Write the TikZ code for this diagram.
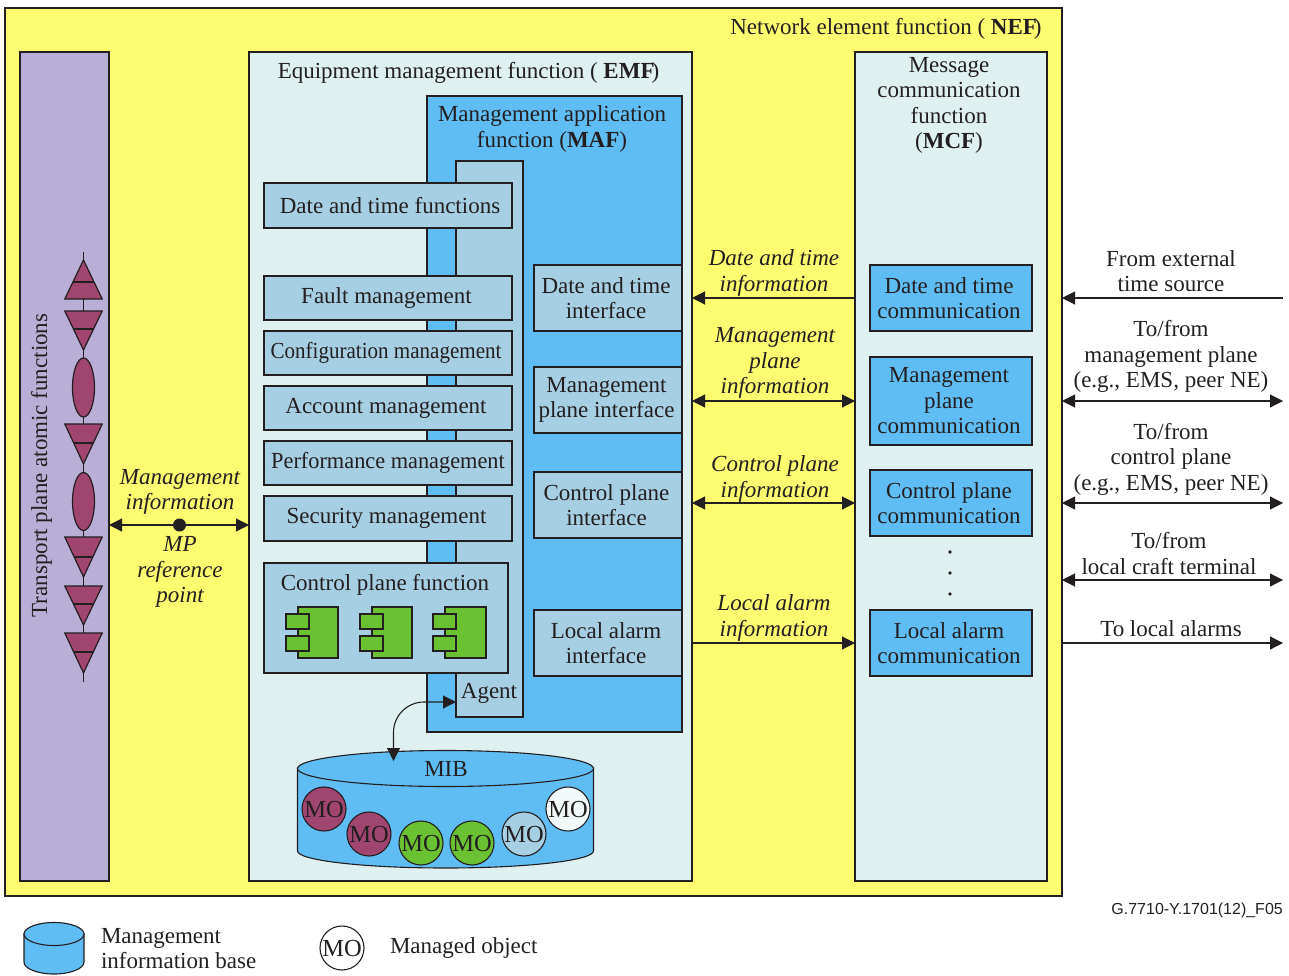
\documentclass[tikz,border=0pt]{standalone}
\usepackage{fontspec}
\setmainfont{Liberation Serif}
\newfontfamily\labelsans{Liberation Sans}
\usetikzlibrary{arrows.meta,calc}
\definecolor{nefyellow}{HTML}{FDFB70}
\definecolor{tppurple}{HTML}{B9AED5}
\definecolor{emflight}{HTML}{DFF0F1}
\definecolor{mafblue}{HTML}{5FBDF3}
\definecolor{midblue}{HTML}{A7CFE3}
\definecolor{magentaf}{HTML}{A04570}
\definecolor{greenf}{HTML}{6AC232}
\definecolor{inkc}{HTML}{231F20}
\tikzset{
  base/.style={draw=inkc,line width=1.1pt,inner sep=0pt,outer sep=0pt},
  nef/.style={base,fill=nefyellow},
  tp/.style={base,fill=tppurple},
  lightbox/.style={base,fill=emflight},
  bluebox/.style={base,fill=mafblue},
  midbox/.style={base,fill=midblue},
  txtb/.style={inner sep=0pt,outer sep=0pt,align=center,text=inkc,font=\fontsize{23}{25.5}\selectfont},
  txt/.style={txtb,yshift=-1pt},
  itxt/.style={txt,font=\fontsize{23}{25.5}\selectfont\itshape},
  conn/.style={draw=inkc,line width=1.1pt},
  biarrow/.style={conn,{Triangle[length=13pt,width=13pt]}-{Triangle[length=13pt,width=13pt]}},
  toarrow/.style={conn,-{Triangle[length=13pt,width=13pt]}},
  sym/.style={draw=inkc,line width=1.2pt,fill=magentaf},
  comp/.style={draw=inkc,line width=1.3pt,fill=greenf},
  mo/.style={draw=inkc,line width=1.1pt,circle,minimum size=44pt,inner sep=0pt,outer sep=0pt,text=inkc,
     font=\fontsize{24.5}{25}\selectfont},
}
% style, name, x1, y1, x2, y2
\newcommand{\rbox}[6]{%
  \node[#1,minimum width={(#5-#3)*1pt},minimum height={(#6-#4)*1pt}] (#2) at ({(#3+#5)/2},{(#4+#6)/2}) {};}
% text-bearing box: horizontal text offset, style, name, x1, y1, x2, y2, text
\newcommand{\tbox}[8]{%
  \rbox{#2}{#3}{#4}{#5}{#6}{#7}
  \node[txtb] (#3-t) at ($(#3.center)+(#1,0)$) {#8};}
\newcommand{\tri}[3]{%
  \draw[sym] (64.8,#1) -- (102.2,#1) -- (83.5,#2) -- cycle;
  \pgfmathsetmacro{\hw}{18.7*(#2-#3)/(#2-#1)}
  \draw[conn] ({83.5-\hw},#3) -- ({83.5+\hw},#3);}
\newcommand{\compo}[2]{%
  \draw[comp] (#1,607) rectangle ({#1+#2},658);
  \draw[comp] ({#1-12},614) rectangle ({#1+11},629);
  \draw[comp] ({#1-12},636) rectangle ({#1+11},651);}
\begin{document}
\begin{tikzpicture}[x=1pt,y=-1pt]
\useasboundingbox (0,0) rectangle (1289,976);
% outer
\rbox{nef}{nefb}{5}{8}{1062}{896}
\node[txt] (neft) at (886,28) {Network element function ( \textbf{NEF\kern-3pt})};
% purple column
\rbox{tp}{tpb}{20}{52}{109}{881}
\node[txtb,rotate=90] (tpt) at (41.5,465.5) {Transport plane atomic functions};
\draw[conn] (83.5,252) -- (83.5,682);
\tri{299}{260}{282}
\tri{311}{350}{329}
\draw[sym] (83.5,387.5) ellipse [x radius=11,y radius=29.5];
\tri{424}{464}{443}
\draw[sym] (83.5,501.5) ellipse [x radius=11,y radius=29];
\tri{537}{577}{557}
\tri{586}{625}{604}
\tri{633}{673}{652}
% EMF
\rbox{lightbox}{emf}{249}{52}{692}{881}
\node[txt] (emft) at (468.5,72) {Equipment management function ( \textbf{EMF\kern-3pt})};
\rbox{bluebox}{maf}{427}{96}{682}{732}
\node[txt] (maft) at (552,128) {Management application\\function (\textbf{MAF})};
\rbox{midbox}{agentb}{456}{161}{523}{717}
\node[txt] (agentt) at (489,692.5) {Agent};
\tbox{2}{midbox}{fdate}{264}{183}{512}{228}{Date and time functions}
\tbox{-1.5}{midbox}{ffault}{264}{276}{512}{320}{Fault management}
\tbox{-2}{midbox}{fconf}{264}{331}{512}{375}{\scalebox{0.915}[1]{Configuration management}}
\tbox{-2}{midbox}{facc}{264}{386}{512}{430}{Account management}
\tbox{0}{midbox}{fperf}{264}{441}{512}{485}{\scalebox{0.97}[1]{Performance management}}
\tbox{-1.5}{midbox}{fsec}{264}{496}{512}{541}{Security management}
\rbox{midbox}{fcp}{264}{563}{508}{673}
\node[txt] (fcpt) at (385,584) {Control plane function};
\compo{298}{40}
\compo{372}{40}
\compo{445}{41}
\tbox{-2}{midbox}{idate}{534}{265}{682}{331}{Date and time\\interface}
\tbox{-1.5}{midbox}{imgmt}{534}{367}{682}{433}{Management\\plane interface}
\tbox{-1.5}{midbox}{icp}{534}{472}{682}{538}{Control plane\\interface}
\tbox{-2}{midbox}{ila}{534}{610}{682}{676}{Local alarm\\interface}
% MIB
\draw[conn,fill=mafblue] (297.5,768) -- (297.5,851) arc [start angle=180,end angle=0,x radius=148,y radius=17] -- (593.5,768) -- cycle;
\draw[conn,fill=mafblue] (445.5,768.5) ellipse [x radius=148,y radius=18];
\node[txt] (mib) at (446,768) {MIB};
\coordinate (mibarrow) at (393.5,761);
\node[mo,fill=magentaf] (mo1) at (324,809) {MO};
\node[mo,fill=magentaf] (mo2) at (369,834) {MO};
\node[mo,fill=greenf] (mo3) at (421,843) {MO};
\node[mo,fill=greenf] (mo4) at (472,843) {MO};
\node[mo,fill=midblue] (mo5) at (524,834) {MO};
\node[mo,fill=emflight!40!white] (mo6) at (568,809) {MO};
\draw[biarrow] (agentb.west |- 0,702) -- (424,702) arc [start angle=-90,end angle=-180,radius=30.5] -- (mibarrow);
% MCF
\rbox{lightbox}{mcf}{855}{52}{1047}{881}
\node[txt] (mcft) at (949,104.5) {Message\\communication\\function\\(\textbf{MCF})};
\tbox{-2}{bluebox}{mdate}{870}{265}{1032}{331}{Date and time\\communication}
\tbox{-2}{bluebox}{mmgmt}{870}{357}{1032}{445}{Management\\plane\\communication}
\tbox{-2}{bluebox}{mcp}{870}{470}{1032}{536}{Control plane\\communication}
\tbox{-2}{bluebox}{mla}{870}{610}{1032}{676}{Local alarm\\communication}
\fill[inkc] (950,552) circle (1.8) (950,573) circle (1.8) (950,594) circle (1.8);
% left connector
\coordinate (mpl) at (0,525);
\draw[biarrow] (tpb.east |- mpl) -- (emf.west |- mpl);
\node[circle,fill=inkc,minimum size=13pt,inner sep=0pt] (mpdot) at (179.5,525) {};
\node[itxt] (mgi) at (180,491) {Management\\information};
\node[itxt] (mpr) at (180,571) {MP\\reference\\point};
% centre connectors
\draw[toarrow] (mcf.west |- mdate) -- (emf.east |- mdate);
\draw[biarrow] (emf.east |- mmgmt) -- (mcf.west |- mmgmt);
\draw[biarrow] (emf.east |- mcp) -- (mcf.west |- mcp);
\draw[toarrow] (emf.east |- 0,643) -- (mcf.west |- 0,643);
\node[itxt] (ldate) at (774,272) {Date and time\\information};
\node[itxt] (lmgmt) at (775,362) {Management\\plane\\information};
\node[itxt] (lcp) at (775,478) {Control plane\\information};
\node[itxt] (lla) at (774,617) {Local alarm\\information};
% right connectors
\coordinate (e1) at (1283,298);
\coordinate (e2) at (1283,401);
\coordinate (e3) at (1283,503);
\coordinate (e4) at (1283,580);
\coordinate (e5) at (1283,643);
\draw[toarrow] (e1) -- (nefb.east |- e1);
\draw[biarrow] (nefb.east |- e2) -- (e2);
\draw[biarrow] (nefb.east |- e3) -- (e3);
\draw[biarrow] (nefb.east |- e4) -- (e4);
\draw[toarrow] (nefb.east |- e5) -- (e5);
\node[txt] (r1) at (1171,270) {From external\\time source};
\node[txt] (r2) at (1171,355.5) {To/from\\management plane\\(e.g., EMS, peer NE)};
\node[txt] (r3) at (1171,458) {To/from\\control plane\\(e.g., EMS, peer NE)};
\node[txt] (r4) at (1169,552.5) {To/from\\local craft terminal};
\node[txt] (r5) at (1171,628) {To local alarms};
% footer
\node[inner sep=0pt,text=inkc,font=\labelsans\fontsize{16}{18}\selectfont,anchor=east] (ref) at (1283,910) {G.7710-Y.1701(12)\_F05};
\draw[conn,fill=mafblue] (24,934) -- (24,962) arc [start angle=180,end angle=0,x radius=30,y radius=12] -- (84,934) -- cycle;
\draw[conn,fill=mafblue] (54,934) ellipse [x radius=30,y radius=11.5];
\node[txt,align=left,anchor=west] (lg1) at (101,947.5) {Management\\information base};
\node[mo,fill=white] (lgmo) at (342,948) {MO};
\node[txt,anchor=west] (lg2) at (390,947) {Managed object};
\end{tikzpicture}
\end{document}
